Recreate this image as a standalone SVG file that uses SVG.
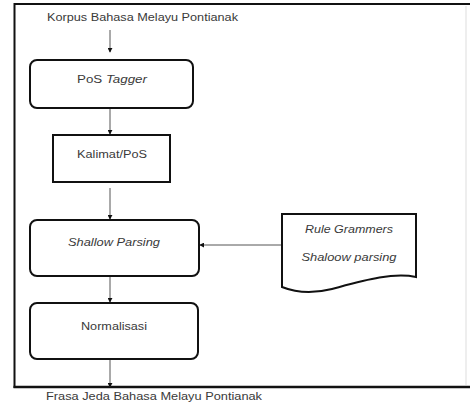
<svg xmlns="http://www.w3.org/2000/svg" width="470" height="403" viewBox="0 0 470 403">
<defs>
<style>
.t{font-family:"Liberation Sans",Arial,sans-serif;font-size:10px;fill:#3a3a3a;}
.i{font-style:italic;}
.box{fill:#fff;stroke:#111;stroke-width:2;}
.conn{stroke:#555;stroke-width:1;fill:none;marker-end:url(#ah);}
</style>
<marker id="ah" viewBox="0 0 6 6" refX="5" refY="3" markerWidth="5" markerHeight="5" orient="auto" markerUnits="userSpaceOnUse">
<path d="M0,0 L6,3 L0,6 Z" fill="#111"/>
</marker>
</defs>
<rect width="470" height="403" fill="#fff"/>
<g id="frame">
<path d="M14.5,388 V4 H470" fill="none" stroke="#111" stroke-width="2"/>
<line x1="13.5" y1="387" x2="470" y2="387" stroke="#111" stroke-width="2.5"/>
<line x1="466" y1="6" x2="466" y2="385" stroke="#ddd" stroke-width="1"/>
</g>
<g id="connectors">
<line class="conn" x1="110" y1="30" x2="110" y2="52"/>
<line class="conn" x1="110" y1="109" x2="110" y2="134"/>
<line class="conn" x1="110" y1="188" x2="110" y2="219"/>
<line class="conn" x1="282" y1="245" x2="200" y2="245"/>
<line class="conn" x1="110" y1="277" x2="110" y2="302"/>
<line class="conn" x1="110" y1="352" x2="110" y2="387"/>
</g>
<g id="input">
<text class="t" x="47" y="21" textLength="191" lengthAdjust="spacingAndGlyphs">Korpus Bahasa Melayu Pontianak</text>
</g>
<g id="pos-tagger">
<rect class="box" x="30" y="60" width="163" height="48" rx="7"/>
<text class="t" x="112" y="83" text-anchor="middle" textLength="70" lengthAdjust="spacingAndGlyphs">PoS <tspan class="i">Tagger</tspan></text>
</g>
<g id="kalimat-pos">
<rect class="box" x="53" y="135" width="117" height="47" stroke-width="2.5"/>
<text class="t" x="112" y="158" text-anchor="middle" textLength="70" lengthAdjust="spacingAndGlyphs">Kalimat/PoS</text>
</g>
<g id="shallow-parsing">
<rect class="box" x="30" y="220" width="169" height="56" rx="7"/>
<text class="t i" x="114" y="246" text-anchor="middle" textLength="92" lengthAdjust="spacingAndGlyphs">Shallow Parsing</text>
</g>
<g id="rule-grammers">
<path class="box" d="M282,214 L416,214 L416,277 C392,272 362,281 332,289 C308,295 292,291 282,287 Z"/>
<text class="t i" x="349" y="233" text-anchor="middle" textLength="88" lengthAdjust="spacingAndGlyphs">Rule Grammers</text>
<text class="t i" x="349" y="261" text-anchor="middle" textLength="95" lengthAdjust="spacingAndGlyphs">Shaloow parsing</text>
</g>
<g id="normalisasi">
<rect class="box" x="30" y="303" width="168" height="56" rx="7"/>
<text class="t" x="114" y="330" text-anchor="middle" textLength="66" lengthAdjust="spacingAndGlyphs">Normalisasi</text>
</g>
<g id="output">
<text class="t" x="46" y="400" textLength="216" lengthAdjust="spacingAndGlyphs" style="font-size:11px">Frasa Jeda  Bahasa Melayu Pontianak</text>
</g>
</svg>
